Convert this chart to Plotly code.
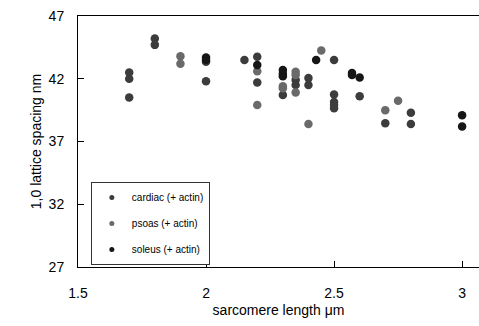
import plotly.graph_objects as go

cardiac_x = [1.7, 1.7, 1.7, 1.8, 1.8, 2.0, 2.0, 2.15, 2.2, 2.2, 2.3, 2.35, 2.35, 2.4, 2.4,
             2.5, 2.5, 2.5, 2.5, 2.5, 2.6, 2.7, 2.8, 2.8]
cardiac_y = [42.5, 42.0, 40.5, 45.2, 44.7, 43.35, 41.8, 43.5, 43.75, 41.7, 40.7, 41.9, 41.5, 42.05, 41.5,
             43.5, 40.75, 40.15, 39.9, 39.65, 40.6, 38.45, 39.3, 38.4]
psoas_x = [1.9, 1.9, 2.2, 2.2, 2.3, 2.3, 2.35, 2.35, 2.35, 2.4, 2.45, 2.7, 2.75]
psoas_y = [43.8, 43.2, 42.6, 39.9, 41.4, 41.25, 42.55, 42.3, 40.9, 38.4, 44.25, 39.5, 40.25]
soleus_x = [2.0, 2.0, 2.2, 2.3, 2.3, 2.3, 2.43, 2.57, 2.57, 2.6, 3.0, 3.0]
soleus_y = [43.7, 43.5, 43.1, 42.7, 42.4, 42.2, 43.5, 42.45, 42.3, 42.1, 39.1, 38.2]

names = ["cardiac (+ actin)", "psoas (+ actin)", "soleus (+ actin)"]
colors = ["#3c3c3c", "#6a6a6a", "#161616"]
series = [(cardiac_x, cardiac_y), (psoas_x, psoas_y), (soleus_x, soleus_y)]

fig = go.Figure()
for (xs, ys), n, c in zip(series, names, colors):
    fig.add_trace(go.Scatter(x=xs, y=ys, mode="markers", name=n, showlegend=False,
                             marker=dict(size=8.5, color=c, line=dict(width=0))))
for n, c in zip(names, colors):
    fig.add_trace(go.Scatter(x=[None], y=[None], mode="markers", name=n, legendgroup=n,
                             marker=dict(size=5, color=c)))

font = "Liberation Sans, Arial, sans-serif"
fig.update_layout(
    width=479, height=326,
    margin=dict(l=78, r=0, t=16, b=59),
    plot_bgcolor="white", paper_bgcolor="white",
    font=dict(family=font, size=14, color="black"),
    showlegend=True,
    legend=dict(x=0.032, y=0.339, xanchor="left", yanchor="top",
                bordercolor="#333333", borderwidth=1, bgcolor="white",
                font=dict(size=10, family=font), traceorder="grouped",
                tracegroupgap=7, itemwidth=30, entrywidth=95, entrywidthmode="pixels"),
    xaxis=dict(range=[1.5, 3.066], tickvals=[1.5, 2, 2.5, 3], ticktext=["1.5", "2", "2.5", "3"],
               showline=True, linecolor="black", linewidth=1, mirror=True,
               ticks="inside", ticklen=6, tickcolor="black", showgrid=False, zeroline=False,
               ticklabelstandoff=13,
               title=dict(text="sarcomere length μm", font=dict(size=14), standoff=5)),
    yaxis=dict(range=[27, 47], tickvals=[27, 32, 37, 42, 47],
               showline=True, linecolor="black", linewidth=1,
               ticks="inside", ticklen=6, tickcolor="black", showgrid=False, zeroline=False,
               ticklabelstandoff=10,
               title=dict(text="1,0 lattice spacing nm", font=dict(size=14), standoff=3)),
)
fig.write_html("out.html")
